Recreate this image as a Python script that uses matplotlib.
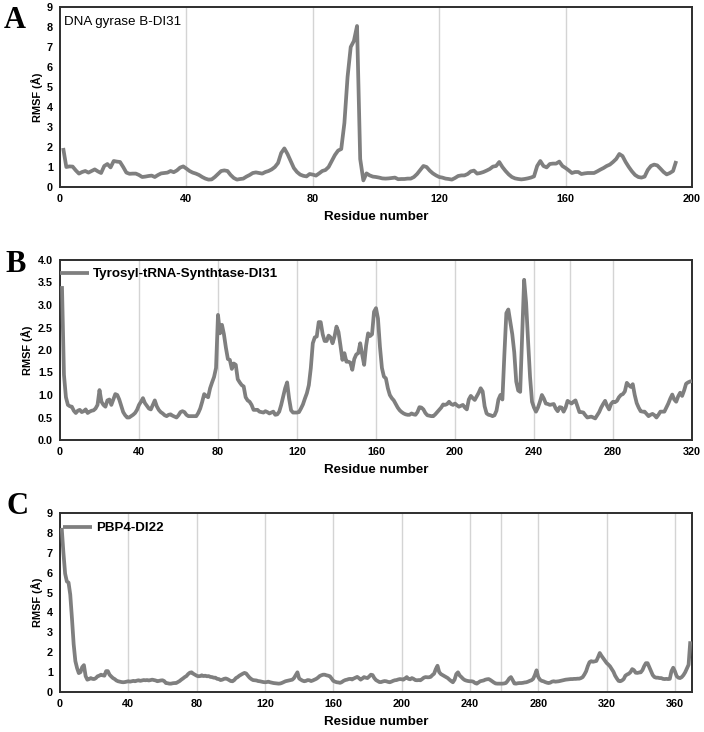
import numpy as np
import matplotlib
matplotlib.use("Agg")
import matplotlib.pyplot as plt

# ---------------- data ----------------
start_a = 1
rmsf_a = [1.95, 1.0, 1.03, 1.02, 0.83, 0.67, 0.75, 0.8, 0.72, 0.8,
          0.88, 0.78, 0.7, 1.05, 1.15, 0.98, 1.3, 1.27, 1.25, 1.0,
          0.72, 0.66, 0.67, 0.67, 0.6, 0.5, 0.52, 0.55, 0.57, 0.5,
          0.6, 0.68, 0.7, 0.72, 0.8, 0.74, 0.83, 0.97, 1.03, 0.92,
          0.8, 0.72, 0.67, 0.6, 0.5, 0.42, 0.37, 0.38, 0.5, 0.65,
          0.8, 0.83, 0.8, 0.6, 0.45, 0.37, 0.4, 0.42, 0.52, 0.6,
          0.7, 0.73, 0.7, 0.67, 0.75, 0.8, 0.88, 1.0, 1.2, 1.7,
          1.93, 1.65, 1.3, 0.95, 0.75, 0.62, 0.56, 0.53, 0.65, 0.62,
          0.57, 0.68, 0.8, 0.85, 1.0, 1.3, 1.6, 1.82, 1.9, 3.2,
          5.5, 7.0, 7.3, 8.05, 1.4, 0.33, 0.68, 0.58, 0.52, 0.5,
          0.47, 0.43, 0.42, 0.43, 0.45, 0.47, 0.39, 0.4, 0.4, 0.42,
          0.42, 0.5, 0.65, 0.85, 1.05, 1.0, 0.82, 0.68, 0.58, 0.5,
          0.47, 0.42, 0.4, 0.37, 0.45, 0.55, 0.58, 0.58, 0.65, 0.78,
          0.82, 0.67, 0.7, 0.75, 0.82, 0.9, 1.02, 1.05, 1.25, 1.0,
          0.8, 0.63, 0.5, 0.43, 0.4, 0.38, 0.4, 0.43, 0.47, 0.53,
          1.05, 1.3, 1.05, 0.98, 1.15, 1.17, 1.17, 1.27, 1.05, 0.95,
          0.83, 0.7, 0.75, 0.75, 0.65, 0.68, 0.7, 0.7, 0.7, 0.78,
          0.87, 0.95, 1.05, 1.12, 1.25, 1.4, 1.65, 1.55, 1.25, 1.0,
          0.78, 0.6, 0.5, 0.47, 0.52, 0.85, 1.05, 1.12, 1.08, 0.92,
          0.75, 0.63, 0.7, 0.8, 1.3]

start_b = 1
rmsf_b = [3.42, 1.45, 0.95, 0.78, 0.75, 0.74, 0.65, 0.6, 0.65, 0.67,
          0.62, 0.64, 0.68, 0.6, 0.63, 0.65, 0.66, 0.7, 0.78, 1.11,
          0.85, 0.78, 0.74, 0.88, 0.9, 0.78, 0.9, 1.02, 1.0, 0.9,
          0.76, 0.62, 0.55, 0.5, 0.5, 0.53, 0.56, 0.6, 0.67, 0.78,
          0.85, 0.93, 0.82, 0.76, 0.7, 0.68, 0.78, 0.88, 0.75, 0.67,
          0.62, 0.59, 0.55, 0.53, 0.56, 0.57, 0.54, 0.52, 0.5, 0.55,
          0.62, 0.64, 0.62, 0.56, 0.53, 0.53, 0.53, 0.53, 0.53, 0.6,
          0.7, 0.85, 1.02, 0.98, 0.95, 1.15, 1.28, 1.4, 1.6, 2.78,
          2.37, 2.56, 2.35, 2.05, 1.8, 1.78, 1.58, 1.7, 1.67, 1.35,
          1.28, 1.22, 1.19, 0.95, 0.88, 0.85, 0.78, 0.67, 0.67, 0.67,
          0.63, 0.62, 0.61, 0.64, 0.62, 0.59, 0.61, 0.63, 0.56, 0.57,
          0.63, 0.78, 0.96, 1.15, 1.28, 0.92, 0.66, 0.61, 0.61, 0.61,
          0.62, 0.7, 0.79, 0.92, 1.04, 1.22, 1.6, 2.15, 2.28, 2.3,
          2.62, 2.62, 2.35, 2.2, 2.2, 2.32, 2.28, 2.15, 2.3, 2.52,
          2.4, 2.1, 1.78, 1.93, 1.74, 1.74, 1.72, 1.56, 1.8, 1.9,
          1.93, 2.15, 1.9, 1.67, 2.1, 2.37, 2.31, 2.35, 2.85, 2.93,
          2.7, 2.07, 1.6, 1.41, 1.37, 1.15, 1.0, 0.93, 0.88, 0.8,
          0.72, 0.66, 0.62, 0.59, 0.57, 0.56, 0.56, 0.59, 0.57, 0.56,
          0.62, 0.73, 0.72, 0.68, 0.6, 0.55, 0.54, 0.53, 0.53, 0.57,
          0.62, 0.67, 0.72, 0.79, 0.78, 0.8, 0.85, 0.8, 0.78, 0.81,
          0.77, 0.74, 0.76, 0.78, 0.72, 0.68, 0.9, 0.98, 0.93, 0.89,
          0.97, 1.05, 1.15, 1.08, 0.75, 0.59, 0.56, 0.55, 0.53, 0.55,
          0.65, 0.9, 1.0, 0.9, 1.9, 2.82, 2.9, 2.62, 2.35, 1.95,
          1.3, 1.1, 1.07, 2.3, 3.56, 3.05, 2.2, 1.4, 0.85, 0.72,
          0.63, 0.72, 0.85, 1.0, 0.92, 0.81, 0.8, 0.78, 0.79, 0.8,
          0.7, 0.64, 0.73, 0.72, 0.63, 0.72, 0.87, 0.84, 0.81, 0.85,
          0.88, 0.75, 0.62, 0.62, 0.61, 0.55, 0.5, 0.51, 0.52, 0.5,
          0.48, 0.55, 0.62, 0.72, 0.8, 0.87, 0.76, 0.68, 0.8, 0.85,
          0.84, 0.87, 0.95, 1.0, 1.02, 1.08, 1.27, 1.22, 1.18, 1.24,
          1.0, 0.82, 0.72, 0.64, 0.63, 0.63, 0.58, 0.53, 0.56, 0.58,
          0.55, 0.5, 0.56, 0.63, 0.63, 0.63, 0.72, 0.81, 0.92, 1.01,
          0.9, 0.85, 0.97, 1.05, 0.98, 1.1, 1.25, 1.28, 1.3, 1.31]

start_c = 1
rmsf_c = [8.25, 7.0, 5.95, 5.56, 5.5, 4.9, 3.7, 2.4, 1.55, 1.2,
          0.95, 1.0, 1.25, 1.35, 0.8, 0.62, 0.65, 0.7, 0.66, 0.65,
          0.7, 0.79, 0.82, 0.87, 0.84, 0.82, 1.05, 1.05, 0.87, 0.78,
          0.7, 0.65, 0.58, 0.54, 0.52, 0.5, 0.49, 0.5, 0.52, 0.54,
          0.52, 0.54, 0.56, 0.54, 0.57, 0.59, 0.56, 0.58, 0.6, 0.59,
          0.6, 0.58, 0.6, 0.62, 0.6, 0.58, 0.54, 0.56, 0.58, 0.59,
          0.55, 0.45, 0.44, 0.42, 0.42, 0.44, 0.45, 0.45, 0.5, 0.55,
          0.62, 0.68, 0.75, 0.8, 0.9, 0.97, 0.99, 0.92, 0.87, 0.82,
          0.79, 0.8, 0.84, 0.8, 0.82, 0.79, 0.8, 0.76, 0.75, 0.72,
          0.72, 0.66, 0.65, 0.6, 0.62, 0.66, 0.68, 0.65, 0.6, 0.55,
          0.54, 0.6, 0.7, 0.75, 0.82, 0.87, 0.92, 0.96, 0.93, 0.82,
          0.72, 0.65, 0.6, 0.59, 0.58, 0.55, 0.54, 0.52, 0.5, 0.49,
          0.5, 0.52, 0.49, 0.47, 0.45, 0.44, 0.43, 0.42, 0.43, 0.46,
          0.5, 0.54, 0.56, 0.58, 0.6, 0.62, 0.7, 0.85, 0.99, 0.68,
          0.62, 0.57, 0.54, 0.56, 0.6, 0.59, 0.55, 0.58, 0.62, 0.66,
          0.72, 0.8, 0.84, 0.87, 0.87, 0.84, 0.82, 0.79, 0.68, 0.56,
          0.52, 0.49, 0.48, 0.46, 0.5, 0.56, 0.6, 0.62, 0.65, 0.66,
          0.63, 0.68, 0.72, 0.76, 0.7, 0.62, 0.68, 0.75, 0.72, 0.7,
          0.78, 0.87, 0.85, 0.7, 0.6, 0.55, 0.5, 0.5, 0.53, 0.55,
          0.54, 0.51, 0.49, 0.52, 0.56, 0.59, 0.6, 0.63, 0.65, 0.64,
          0.62, 0.68, 0.75, 0.66, 0.64, 0.7, 0.66, 0.6, 0.59, 0.6,
          0.59, 0.65, 0.72, 0.75, 0.74, 0.74, 0.76, 0.85, 0.92, 1.15,
          1.32, 1.0, 0.9, 0.85, 0.8, 0.75, 0.7, 0.62, 0.55, 0.49,
          0.62, 0.9, 0.99, 0.83, 0.75, 0.66, 0.6, 0.57, 0.55, 0.54,
          0.54, 0.52, 0.45, 0.42, 0.48, 0.54, 0.56, 0.58, 0.62, 0.64,
          0.65, 0.6, 0.54, 0.48, 0.43, 0.42, 0.42, 0.42, 0.42, 0.43,
          0.45, 0.55, 0.68, 0.75, 0.6, 0.43, 0.42, 0.44, 0.45, 0.45,
          0.46, 0.48, 0.49, 0.52, 0.56, 0.59, 0.66, 0.85, 1.09, 0.75,
          0.62, 0.56, 0.54, 0.5, 0.47, 0.45, 0.47, 0.52, 0.54, 0.52,
          0.53, 0.54, 0.56, 0.58, 0.6, 0.62, 0.63, 0.64, 0.65, 0.65,
          0.66, 0.66, 0.67, 0.67, 0.7, 0.75, 0.88, 1.04, 1.3, 1.5,
          1.55, 1.52, 1.54, 1.56, 1.75, 1.96, 1.82, 1.7, 1.58, 1.46,
          1.38, 1.29, 1.15, 1.02, 0.82, 0.68, 0.56, 0.54, 0.58, 0.65,
          0.82, 0.88, 0.92, 1.0, 1.15, 1.1, 0.97, 0.96, 0.98, 0.99,
          1.1, 1.3, 1.45, 1.45, 1.25, 1.04, 0.85, 0.75, 0.72, 0.72,
          0.7, 0.7, 0.66, 0.65, 0.66, 0.65, 0.66, 1.05, 1.22, 1.04,
          0.8, 0.72, 0.7, 0.75, 0.85, 0.99, 1.18, 1.37, 2.55]

labels = ["A", "B", "C"]
names = ["DNA gyrase B-DI31", "Tyrosyl-tRNA-Synthtase-DI31", "PBP4-DI22"]
xlims = [200, 320, 370]
xticks = [[0, 40, 80, 120, 160, 200],
          [0, 40, 80, 120, 160, 200, 240, 280, 320],
          [0, 40, 80, 120, 160, 200, 240, 280, 320, 360]]
xgrid = [[40, 80, 120, 160],
         [40, 80, 120, 160, 200, 240, 258, 280],
         [40, 80, 120, 160, 200, 240, 258, 280, 320, 360]]
ylims = [9, 4, 9]
yticks = [list(range(0, 10)), [0.0, 0.5, 1.0, 1.5, 2.0, 2.5, 3.0, 3.5, 4.0],
          list(range(0, 10))]
ytick_fmt = ["{:d}", "{:.1f}", "{:d}"]
series = [(start_a, rmsf_a), (start_b, rmsf_b), (start_c, rmsf_c)]

# ---------------- figure ----------------
W, H = 704, 732
fig = plt.figure(figsize=(W / 100, H / 100), dpi=100)
plt.rcParams['font.family'] = ['Liberation Sans', 'DejaVu Sans']

LINE = "#7f7f7f"
GRID = "#d4d4d4"
SPINE = "#2e2e2e"

# axes boxes in pixels: (left, top, right, bottom)
boxes = [(60, 7, 692, 187), (60, 260, 692, 440), (60, 513, 692, 692)]
letter_pos = [(15, 20), (16, 265), (17, 507)]
ylab_x = [37, 27, 37]
leg_top = [0, 8, 9]

for i in range(3):
    l, t, r, b = boxes[i]
    ax = fig.add_axes([l / W, 1 - b / H, (r - l) / W, (b - t) / H])
    st, vals = series[i]
    res = st + np.arange(len(vals))
    line, = ax.plot(res, vals, color=LINE, lw=2.7, solid_joinstyle='round',
                    solid_capstyle='butt', label=names[i], zorder=3)
    for g in xgrid[i]:
        ax.axvline(g, color=GRID, lw=1.0, zorder=1)
    ax.set_xlim(0, xlims[i])
    ax.set_ylim(0, ylims[i])
    ax.set_xticks(xticks[i])
    ax.set_yticks(yticks[i])
    ax.set_yticklabels([ytick_fmt[i].format(v) for v in yticks[i]])
    ax.tick_params(length=0, labelsize=7.8, pad=5)
    ax.tick_params(axis='x', pad=5)
    for lab in ax.get_xticklabels() + ax.get_yticklabels():
        lab.set_fontweight('bold')
    for s in ax.spines.values():
        s.set_color(SPINE)
        s.set_linewidth(1.4)
    ax.set_xlabel("Residue number", fontsize=9.6, fontweight='bold')
    ax.xaxis.set_label_coords(0.5, -30 / (b - t))
    ax.xaxis.label.set_va('center')
    ax.set_ylabel("RMSF (Å)", fontsize=7.9, fontweight='bold')
    ax.yaxis.set_label_coords((ylab_x[i] - l) / (r - l), 0.5)
    ax.yaxis.label.set_va('center')

    if i == 0:
        ax.text(4 / (r - l), 1 - 15 / (b - t), names[i], transform=ax.transAxes,
                fontsize=9.6, ha='left', va='center')
    else:
        x0 = 0.0 if i == 1 else 3 / (r - l)
        ax.legend(handles=[line], loc='upper left',
                  bbox_to_anchor=(x0, 1 - leg_top[i] / (b - t)),
                  frameon=False, borderpad=0, borderaxespad=0,
                  handlelength=2.2, handletextpad=0.3,
                  prop={'size': 9.6, 'weight': 'bold'})

    fig.text(letter_pos[i][0] / W, 1 - letter_pos[i][1] / H, labels[i],
             fontsize=22, fontweight='bold', family='Liberation Serif',
             ha='center', va='center')

fig.savefig("out.png", dpi=100)
